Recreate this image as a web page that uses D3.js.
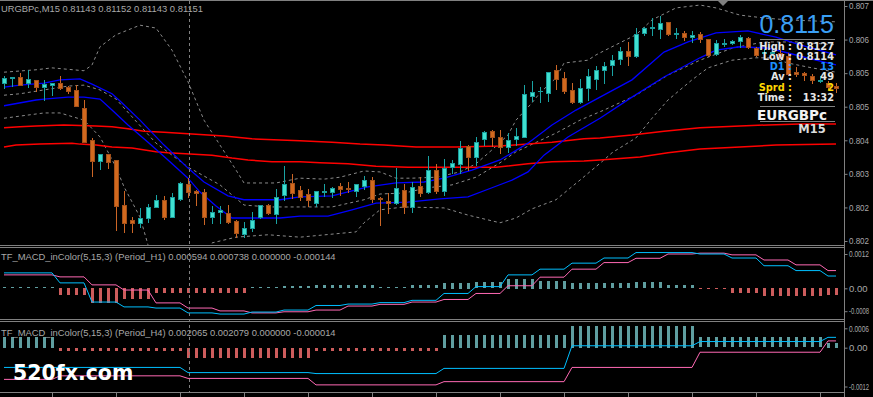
<!DOCTYPE html>
<html>
<head>
<meta charset="utf-8">
<script src="https://cdnjs.cloudflare.com/ajax/libs/d3/7.8.5/d3.min.js"></script>
<style>
  html, body { margin: 0; padding: 0; background: #000; overflow: hidden; }
  svg { display: block; }
</style>
</head>
<body>
<svg id="chart"></svg>
<script>
// ---------------- data ----------------
const headerText = 'URGBPc,M15  0.81143 0.81152 0.81143 0.81151';
const h1Title = 'TF_MACD_inColor(5,15,3) (Period_H1) 0.000594 0.000738 0.000000 -0.000144';
const h4Title = 'TF_MACD_inColor(5,15,3) (Period_H4) 0.002065 0.002079 0.000000 -0.000014';

// M15 candles, [open, high, low, close]
const candles = [
  [0.80549, 0.80564, 0.80539, 0.80560], [0.80560, 0.80562, 0.80543, 0.80562], [0.80562, 0.80570, 0.80545, 0.80545],
  [0.80549, 0.80577, 0.80541, 0.80558], [0.80556, 0.80556, 0.80533, 0.80541], [0.80541, 0.80556, 0.80514, 0.80547],
  [0.80545, 0.80549, 0.80524, 0.80549], [0.80549, 0.80564, 0.80537, 0.80539], [0.80541, 0.80543, 0.80529, 0.80533],
  [0.80535, 0.80545, 0.80502, 0.80502], [0.80497, 0.80514, 0.80426, 0.80426], [0.80431, 0.80435, 0.80356, 0.80387],
  [0.80387, 0.80401, 0.80370, 0.80401], [0.80401, 0.80401, 0.80372, 0.80385], [0.80389, 0.80389, 0.80243, 0.80293],
  [0.80295, 0.80324, 0.80239, 0.80258], [0.80264, 0.80270, 0.80239, 0.80258], [0.80258, 0.80289, 0.80249, 0.80268],
  [0.80268, 0.80297, 0.80260, 0.80291], [0.80291, 0.80316, 0.80291, 0.80306], [0.80306, 0.80314, 0.80266, 0.80270],
  [0.80270, 0.80320, 0.80270, 0.80312], [0.80308, 0.80343, 0.80306, 0.80341], [0.80339, 0.80351, 0.80312, 0.80322],
  [0.80324, 0.80326, 0.80295, 0.80320], [0.80322, 0.80328, 0.80256, 0.80270], [0.80270, 0.80293, 0.80258, 0.80280],
  [0.80280, 0.80293, 0.80258, 0.80285], [0.80278, 0.80295, 0.80258, 0.80260], [0.80262, 0.80264, 0.80228, 0.80237],
  [0.80235, 0.80260, 0.80228, 0.80247], [0.80247, 0.80280, 0.80241, 0.80264], [0.80270, 0.80295, 0.80268, 0.80295],
  [0.80295, 0.80297, 0.80276, 0.80278], [0.80276, 0.80328, 0.80258, 0.80312], [0.80316, 0.80376, 0.80306, 0.80339],
  [0.80341, 0.80360, 0.80310, 0.80320], [0.80326, 0.80335, 0.80306, 0.80312], [0.80318, 0.80328, 0.80293, 0.80306],
  [0.80299, 0.80324, 0.80293, 0.80324], [0.80322, 0.80339, 0.80314, 0.80324], [0.80322, 0.80333, 0.80312, 0.80331],
  [0.80335, 0.80341, 0.80316, 0.80328], [0.80331, 0.80343, 0.80322, 0.80328], [0.80324, 0.80339, 0.80314, 0.80339],
  [0.80335, 0.80356, 0.80328, 0.80347], [0.80347, 0.80353, 0.80301, 0.80308], [0.80310, 0.80312, 0.80253, 0.80308],
  [0.80303, 0.80320, 0.80278, 0.80299], [0.80299, 0.80372, 0.80297, 0.80331], [0.80326, 0.80339, 0.80278, 0.80291],
  [0.80291, 0.80343, 0.80280, 0.80333], [0.80335, 0.80353, 0.80314, 0.80320], [0.80322, 0.80397, 0.80320, 0.80368],
  [0.80368, 0.80381, 0.80320, 0.80324], [0.80324, 0.80391, 0.80316, 0.80372], [0.80374, 0.80389, 0.80362, 0.80383],
  [0.80381, 0.80429, 0.80362, 0.80414], [0.80418, 0.80420, 0.80368, 0.80395], [0.80395, 0.80437, 0.80378, 0.80426],
  [0.80433, 0.80449, 0.80420, 0.80447], [0.80449, 0.80451, 0.80418, 0.80437], [0.80437, 0.80451, 0.80404, 0.80416],
  [0.80416, 0.80445, 0.80406, 0.80431], [0.80433, 0.80456, 0.80420, 0.80439], [0.80437, 0.80545, 0.80437, 0.80527],
  [0.80522, 0.80554, 0.80512, 0.80531], [0.80532, 0.80541, 0.80510, 0.80533], [0.80529, 0.80572, 0.80512, 0.80572],
  [0.80577, 0.80587, 0.80537, 0.80558], [0.80560, 0.80572, 0.80529, 0.80533], [0.80535, 0.80549, 0.80508, 0.80510],
  [0.80510, 0.80558, 0.80508, 0.80539], [0.80539, 0.80579, 0.80514, 0.80564], [0.80558, 0.80585, 0.80537, 0.80577],
  [0.80577, 0.80593, 0.80549, 0.80585], [0.80587, 0.80608, 0.80566, 0.80597], [0.80599, 0.80625, 0.80589, 0.80616],
  [0.80616, 0.80635, 0.80587, 0.80606], [0.80606, 0.80664, 0.80604, 0.80652], [0.80654, 0.80666, 0.80650, 0.80664],
  [0.80664, 0.80685, 0.80650, 0.80666], [0.80662, 0.80689, 0.80643, 0.80675], [0.80677, 0.80677, 0.80650, 0.80652],
  [0.80652, 0.80664, 0.80643, 0.80654], [0.80654, 0.80658, 0.80639, 0.80645], [0.80645, 0.80658, 0.80635, 0.80650],
  [0.80652, 0.80656, 0.80635, 0.80641], [0.80641, 0.80641, 0.80606, 0.80608], [0.80610, 0.80639, 0.80608, 0.80633],
  [0.80631, 0.80641, 0.80627, 0.80633], [0.80633, 0.80639, 0.80631, 0.80637], [0.80637, 0.80650, 0.80625, 0.80645],
  [0.80643, 0.80645, 0.80622, 0.80625], [0.80622, 0.80625, 0.80606, 0.80608], [0.80612, 0.80620, 0.80608, 0.80614],
  [0.80612, 0.80622, 0.80608, 0.80614], [0.80612, 0.80618, 0.80602, 0.80608], [0.80606, 0.80612, 0.80566, 0.80568],
  [0.80572, 0.80583, 0.80564, 0.80568], [0.80570, 0.80572, 0.80556, 0.80566], [0.80564, 0.80568, 0.80549, 0.80556],
  [0.80554, 0.80564, 0.80551, 0.80556], [0.80549, 0.80554, 0.80537, 0.80541], [0.80543, 0.80549, 0.80531, 0.80539]
];

// overlay lines, [bar index, price]
const blueUpper = [[0,0.80541],[2,0.80545],[5,0.80549],[7,0.80556],[9.5,0.80558],[11,0.80547],[13.5,0.80527],[14.5,0.80512],
  [17,0.80472],[20,0.80420],[23,0.80372],[25,0.80343],[28,0.80314],[30,0.80306],[34.5,0.80306],[37,0.80312],[41,0.80314],
  [45.5,0.80333],[49,0.80341],[52.5,0.80343],[55,0.80351],[58.5,0.80368],[62,0.80389],[65.5,0.80424],[68.5,0.80462],
  [71.5,0.80493],[74.5,0.80520],[78.5,0.80556],[82.5,0.80614],[85.5,0.80635],[89,0.80654],[93,0.80658],[96.5,0.80645],
  [99.5,0.80629],[104,0.80608]];
const blueLower = [[0,0.80502],[4,0.80514],[5,0.80516],[8,0.80520],[10,0.80520],[12,0.80516],[13.5,0.80493],[15.5,0.80462],
  [18,0.80426],[20.5,0.80389],[23,0.80351],[24.5,0.80322],[26.5,0.80293],[28.5,0.80268],[34.5,0.80268],[37,0.80272],
  [40.5,0.80272],[43.5,0.80285],[46.5,0.80299],[50.5,0.80301],[54.5,0.80308],[58,0.80312],[61,0.80331],[63.5,0.80347],
  [65.5,0.80364],[67.5,0.80399],[70.5,0.80437],[74.5,0.80476],[78.5,0.80520],[82.5,0.80562],[87,0.80602],[89,0.80618],
  [92,0.80625],[95.5,0.80622],[98,0.80612],[101.5,0.80597],[104,0.80587]];
const redUpper = [[0,0.80456],[2,0.80458],[4,0.80460],[7.5,0.80462],[11.5,0.80460],[13.5,0.80458],[15.5,0.80454],[17.5,0.80449],
  [20,0.80447],[23.5,0.80443],[27.5,0.80439],[31,0.80433],[37,0.80429],[41,0.80426],[44.5,0.80422],[47.5,0.80420],
  [51.5,0.80416],[56.5,0.80416],[62,0.80418],[65.5,0.80422],[68.5,0.80426],[72.5,0.80433],[74.5,0.80435],[78.5,0.80441],
  [82.5,0.80449],[87,0.80456],[92,0.80460],[95.5,0.80462],[99.5,0.80464],[104,0.80464]];
const redLower = [[0,0.80416],[1.5,0.80420],[4.5,0.80422],[8.5,0.80424],[9.5,0.80422],[11.5,0.80420],[13.5,0.80416],[16,0.80414],
  [19,0.80406],[20.5,0.80404],[26,0.80399],[28.5,0.80393],[30.5,0.80389],[33.5,0.80385],[37,0.80385],[39.5,0.80383],
  [43,0.80381],[46.5,0.80376],[50.5,0.80374],[58,0.80374],[61.5,0.80374],[65.5,0.80381],[68.5,0.80385],[72.5,0.80387],
  [74.5,0.80389],[79.5,0.80395],[83,0.80404],[87,0.80412],[92,0.80416],[96.5,0.80420],[104,0.80422]];
const bandUpper = [[0,0.80572],[4,0.80577],[6,0.80581],[10,0.80575],[11,0.80587],[12,0.80625],[14,0.80650],[17,0.80670],
  [19,0.80664],[21,0.80618],[23,0.80552],[25,0.80472],[27,0.80420],[29,0.80368],[30,0.80341],[34,0.80341],[37,0.80351],
  [40,0.80349],[42,0.80353],[45,0.80366],[47,0.80364],[49,0.80351],[51,0.80351],[54,0.80353],[57,0.80364],[59,0.80381],
  [61,0.80410],[63,0.80441],[64,0.80472],[66,0.80508],[67,0.80529],[69,0.80560],[70,0.80591],[73,0.80597],[74,0.80608],
  [76,0.80625],[79,0.80650],[81,0.80681],[84,0.80706],[87,0.80712],[89,0.80706],[92,0.80691],[95,0.80685],[98,0.80681],
  [104,0.80677]];
const bandMiddle = [[0,0.80524],[2,0.80527],[5,0.80535],[8,0.80543],[10,0.80545],[12,0.80535],[14,0.80516],[16,0.80479],
  [19,0.80424],[23,0.80374],[27,0.80337],[30,0.80295],[33,0.80291],[37,0.80291],[41,0.80291],[45,0.80306],[47,0.80318],
  [50,0.80320],[53,0.80331],[56,0.80337],[59,0.80353],[62,0.80383],[64,0.80406],[69,0.80445],[72,0.80472],[75,0.80493],
  [79,0.80524],[83,0.80566],[87,0.80597],[91,0.80622],[95,0.80635],[99,0.80635],[104,0.80629]];
const bandLower = [[0,0.80476],[5,0.80487],[7,0.80487],[10,0.80472],[12,0.80437],[14,0.80374],[15,0.80333],[17,0.80270],
  [18,0.80212],[20,0.80176],[23,0.80164],[25,0.80191],[26,0.80216],[29,0.80228],[33,0.80233],[37,0.80228],[44,0.80239],
  [45,0.80258],[47,0.80285],[50,0.80291],[55,0.80289],[58,0.80274],[62,0.80258],[64,0.80268],[66,0.80287],[69,0.80306],
  [72,0.80347],[75,0.80389],[76,0.80404],[79,0.80435],[81,0.80476],[83,0.80514],[86,0.80556],[88,0.80581],[91,0.80597],
  [94,0.80602],[96,0.80602],[98,0.80591],[101,0.80581],[104,0.80572]];

// price axis
const priceTicks = [0.8071, 0.8064, 0.8057, 0.8050, 0.8043, 0.8036, 0.8029, 0.8022];
const priceLabels = ['0.807', '0.806', '0.805', '0.805', '0.804', '0.803', '0.802', '0.802'];

// MACD on H1 (one value per H1 bar = 4 M15 bars)
const h1Macd = [0.00054, 0.00054, 0.00019, -0.00048, -0.00065, -0.00069, -0.00086, -0.00090, -0.00083, -0.00076,
  -0.00060, -0.00055, -0.00050, -0.00042, -0.00018, 0.00006, 0.00047, 0.00067, 0.00088, 0.00106, 0.00125, 0.00125,
  0.00120, 0.00106, 0.00079, 0.00062, 0.00043];
const h1Signal = [0.00047, 0.00047, 0.00040, 0.00012, -0.00006, -0.00051, -0.00069, -0.00079, -0.00086, -0.00082,
  -0.00076, -0.00062, -0.00056, -0.00048, -0.00039, -0.00018, 0.00009, 0.00039, 0.00067, 0.00090, 0.00105, 0.00120,
  0.00123, 0.00117, 0.00099, 0.00082, 0.00062];
const h1Hist = [0.00003, 0.00003, -0.00025, -0.00052, -0.00038, -0.00016, -0.00016, -0.00016, 0.00004, 0.00008,
  0.0001, 0.0001, 0.00004, 0.0001, 0.0002, 0.00022, 0.00034, 0.00027, 0.0002, 0.00019, 0.00022, 0.0001, -0.00005,
  -0.00019, -0.00027, -0.00027, -0.00023];
const h1Ticks = [0.0012, 0, -0.0008];
const h1Labels = ['0.0012', '0.00', '-0.0008'];

// MACD on H4 (one value per H4 bar = 16 M15 bars)
const h4Macd = [-0.00061, -0.00061, -0.00077, -0.00080, -0.00064, 0.00006, 0.00019, 0.00032];
const h4Signal = [-0.00098, -0.00087, -0.00095, -0.00115, -0.00105, -0.00061, -0.00014, 0.00021];
const h4Hist = [0.00034, -0.00009, -0.00031, -0.00009, 0.00039, 0.00067, 0.00032, 0.00015];
const h4Ticks = [0.0006, 0, -0.0012];
const h4Labels = ['0.0006', '0.00', '-0.0012'];

const timeTicks = [6, 14, 22, 30, 38, 46, 54, 62, 70, 78, 86, 94, 102];
const crosshairBar = 23;

// info block
const lastPrice = '0.8115';
const infoLabels = ['High :', 'Low :', 'D1 :', 'Av :', 'Sprd :', 'Time :'];
const infoValues = ['0.8127', '0.8114', '13', '49', '2', '13:32'];
const infoColors = ['#e6e6e6', '#e6e6e6', '#1e90ff', '#e6e6e6', '#ffd700', '#e6e6e6'];
const symbolName = 'EURGBPc';
const periodName = 'M15';
const watermark = '520fx.com';

// ---------------- layout ----------------
const width = 873, height = 397;
const axisX = 844;
const main = { top: 1, bottom: 245 };
const pane1 = { top: 248, bottom: 319 };
const pane2 = { top: 322, bottom: 392 };
const grey = '#808080';
const textGrey = '#a8a8a8';
const sans = '"Liberation Sans", Arial, sans-serif';
const bold = '"DejaVu Sans", Verdana, sans-serif';

const h1Group = i => i < 3 ? 0 : Math.floor((i - 3) / 4) + 1;
const h4Group = i => i < 7 ? 0 : Math.floor((i - 7) / 16) + 1;

const svg = d3.select('#chart')
  .attr('width', width)
  .attr('height', height)
  .style('background', '#000');

const barX = d3.scaleLinear().domain([0, 104]).range([4, 836]);
const priceY = d3.scaleLinear().domain([0.8022, 0.8071]).range([241, 6]);
const h1Y = d3.scaleLinear().domain([-0.0008, 0.0012]).range([311.2, 254]);
const h4Y = d3.scaleLinear().domain([-0.0012, 0.0006]).range([386.5, 328.3]);

const defs = svg.append('defs');
[['clipMain', main], ['clipP1', pane1], ['clipP2', pane2]].forEach(([id, p]) => {
  defs.append('clipPath').attr('id', id)
    .append('rect').attr('x', 0).attr('y', p.top).attr('width', axisX).attr('height', p.bottom - p.top);
});

// ---------------- frame ----------------
const frame = svg.append('g').attr('stroke', grey).attr('shape-rendering', 'crispEdges');
[0.5, 245.5, 247.5, 319.5, 321.5, 392.5].forEach(y => {
  frame.append('line').attr('x1', 0).attr('x2', axisX).attr('y1', y).attr('y2', y);
});
frame.append('line').attr('x1', 0).attr('x2', width).attr('y1', 0.5).attr('y2', 0.5);
frame.append('line').attr('x1', axisX + 0.5).attr('x2', axisX + 0.5).attr('y1', 0).attr('y2', height);

// chart shift marker
svg.append('path').attr('d', 'M718,1L728,1L723,6Z').attr('fill', grey);

// ---------------- main pane ----------------
const mainG = svg.append('g').attr('clip-path', 'url(#clipMain)');

const priceLine = d3.line().x(d => barX(d[0])).y(d => priceY(d[1]));

[bandUpper, bandMiddle, bandLower].forEach(band => {
  mainG.append('path').attr('d', priceLine(band))
    .attr('fill', 'none').attr('stroke', '#8a8a8a').attr('stroke-width', 1)
    .attr('stroke-dasharray', '3,3');
});
[redUpper, redLower].forEach(l => {
  mainG.append('path').attr('d', priceLine(l))
    .attr('fill', 'none').attr('stroke', '#ff0000').attr('stroke-width', 1.5);
});
[blueUpper, blueLower].forEach(l => {
  mainG.append('path').attr('d', priceLine(l))
    .attr('fill', 'none').attr('stroke', '#0000ff').attr('stroke-width', 1.3);
});

const candleG = mainG.append('g').attr('shape-rendering', 'crispEdges');
const isBull = d => d[3] >= d[0];

candleG.selectAll('line.wick').data(candles).join('line')
  .attr('class', 'wick')
  .attr('x1', (d, i) => Math.round(barX(i)) + 0.5)
  .attr('x2', (d, i) => Math.round(barX(i)) + 0.5)
  .attr('y1', d => Math.round(priceY(d[1])))
  .attr('y2', d => Math.round(priceY(d[2])) + 1)
  .attr('stroke', d => isBull(d) ? '#1aa3a3' : '#cc6626');

candleG.selectAll('rect.body').data(candles).join('rect')
  .attr('class', 'body')
  .attr('x', (d, i) => Math.round(barX(i)) - 1.5)
  .attr('width', 4)
  .attr('y', d => Math.round(priceY(Math.max(d[0], d[3]))) + 0.5)
  .attr('height', d => Math.max(0.01, Math.round(priceY(Math.min(d[0], d[3]))) - Math.round(priceY(Math.max(d[0], d[3])))))
  .attr('fill', d => isBull(d) ? '#40e0d0' : '#d2691e')
  .attr('stroke', d => isBull(d) ? '#1a9c9c' : '#a3501a');

// right-hand value axis; long labels squeezed to stay inside the window
function valueAxis(scale, ticks, labels) {
  const ax = svg.append('g').attr('transform', `translate(${axisX + 0.5},0)`)
    .call(d3.axisRight(scale).tickValues(ticks).tickFormat((d, i) => labels[i]).tickSize(3).tickPadding(1.5));
  ax.select('.domain').remove();
  ax.selectAll('line').attr('stroke', grey);
  ax.selectAll('text').attr('fill', textGrey).style('font-family', sans).style('font-size', '9.5px')
    .each(function () {
      const room = width - (axisX + 5) - 4;
      if (this.getComputedTextLength() > room) {
        d3.select(this).style('font-size', '8.6px')
          .attr('textLength', room).attr('lengthAdjust', 'spacingAndGlyphs');
      }
    });
}
valueAxis(priceY, priceTicks, priceLabels);

svg.append('text').attr('x', 1).attr('y', 11.5).text(headerText)
  .attr('fill', textGrey).style('font-family', sans).style('font-size', '9.4px');

// ---------------- MACD panes ----------------
function macdPane(clipId, yScale, groupOf, macd, signal, hist, ticks, labels, title, titleY) {
  const g = svg.append('g').attr('clip-path', `url(#${clipId})`);
  const bars = d3.range(candles.length);
  g.append('g').attr('shape-rendering', 'crispEdges')
    .selectAll('rect').data(bars).join('rect')
    .attr('x', i => Math.round(barX(i)) - 1)
    .attr('width', 3)
    .attr('y', i => Math.round(Math.min(yScale(hist[groupOf(i)]), yScale(0))))
    .attr('height', i => Math.max(1, Math.round(Math.abs(yScale(hist[groupOf(i)]) - yScale(0)))))
    .attr('fill', i => hist[groupOf(i)] >= 0 ? '#5f9ea0' : '#cd5c5c');

  const line = d3.line().x(i => barX(i));
  g.append('path').attr('d', line.y(i => yScale(signal[groupOf(i)]))(bars))
    .attr('fill', 'none').attr('stroke', '#ff69b4').attr('stroke-width', 1);
  g.append('path').attr('d', line.y(i => yScale(macd[groupOf(i)]))(bars))
    .attr('fill', 'none').attr('stroke', '#00bfff').attr('stroke-width', 1);

  svg.append('text').attr('x', 1).attr('y', titleY).text(title)
    .attr('fill', textGrey).style('font-family', sans).style('font-size', '9.4px');

  valueAxis(yScale, ticks, labels);
}

macdPane('clipP1', h1Y, h1Group, h1Macd, h1Signal, h1Hist, h1Ticks, h1Labels, h1Title, 260);
macdPane('clipP2', h4Y, h4Group, h4Macd, h4Signal, h4Hist, h4Ticks, h4Labels, h4Title, 336);

// time axis ticks
const tAxis = svg.append('g').attr('transform', 'translate(0,392.5)')
  .call(d3.axisBottom(barX).tickValues(timeTicks).tickFormat('').tickSize(5));
tAxis.select('.domain').remove();
tAxis.selectAll('line').attr('stroke', grey);

// crosshair
svg.append('line')
  .attr('x1', Math.round(barX(crosshairBar)) + 1.5).attr('x2', Math.round(barX(crosshairBar)) + 1.5)
  .attr('y1', 1).attr('y2', 392)
  .attr('stroke', grey).attr('stroke-dasharray', '3,3').attr('shape-rendering', 'crispEdges');

// ---------------- info block ----------------
const info = svg.append('g');
info.append('text').attr('x', 834).attr('y', 33).attr('text-anchor', 'end').text(lastPrice)
  .attr('fill', '#3a9ff5').style('font-family', sans).style('font-size', '25px');
[39.5, 106.5, 121.5].forEach(y => {
  info.append('line').attr('x1', 760).attr('x2', 835).attr('y1', y).attr('y2', y)
    .attr('stroke', grey).attr('shape-rendering', 'crispEdges');
});
infoLabels.forEach((lab, k) => {
  const y = 49.5 + k * 10.3;
  info.append('text').attr('x', 792).attr('y', y).attr('text-anchor', 'end').text(lab)
    .attr('fill', infoColors[k]).style('font-family', bold).style('font-weight', 'bold').style('font-size', '9.8px');
  info.append('text').attr('x', 834).attr('y', y).attr('text-anchor', 'end').text(infoValues[k])
    .attr('fill', infoColors[k]).style('font-family', bold).style('font-weight', 'bold').style('font-size', '9.8px');
});
info.append('text').attr('x', 792).attr('y', 120).attr('text-anchor', 'middle').text(symbolName)
  .attr('fill', '#f2f2f2').style('font-family', bold).style('font-weight', 'bold').style('font-size', '13.5px');
info.append('text').attr('x', 812).attr('y', 133).attr('text-anchor', 'middle').text(periodName)
  .attr('fill', '#dcdcdc').style('font-family', bold).style('font-weight', 'bold').style('font-size', '11.5px');

svg.append('text').attr('x', 13).attr('y', 380).text(watermark)
  .attr('fill', '#ffffff').style('font-family', bold).style('font-weight', 'bold').style('font-size', '20.5px');
</script>
</body>
</html>
